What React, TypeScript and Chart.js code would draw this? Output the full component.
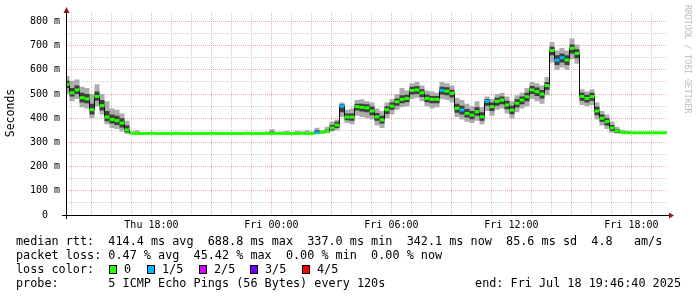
import React, { useEffect, useRef } from 'react';
import { Chart, registerables } from 'chart.js';

Chart.register(...registerables);

// Time axis: hours since Thu 00:00; graph spans 30h ending Fri 19:46:40
const START_HOUR = 13 + 46 / 60 + 40 / 3600;
const END_HOUR = START_HOUR + 30;
const STEP_HOURS = 0.25;

// median RTT in ms, one sample every 15 minutes
const median = [
  540, 505, 517, 485, 480, 435, 490, 452, 405, 395,
  390, 380, 352, 338, 337, 337, 337, 338, 337, 337,
  337, 337, 338, 337, 337, 337, 337, 337, 337, 338,
  337, 337, 337, 337, 337, 337, 338, 337, 337, 337,
  337, 337, 338, 337, 337, 337, 337, 338, 337, 337,
  340, 342, 345, 360, 372, 450, 405, 405, 448, 445,
  443, 430, 406, 393, 435, 450, 468, 478, 482, 515,
  517, 505, 482, 478, 478, 515, 512, 503, 441, 434,
  420, 413, 427, 406, 470, 448, 470, 475, 455, 434,
  462, 475, 489, 517, 510, 500, 535, 680, 640, 650,
  641, 689, 668, 490, 482, 489, 430, 400, 386, 360,
  348, 342, 340, 340, 340, 340, 340, 340, 340, 340,
  340,
];

// lost pings (out of 5) per sample
const loss = [
  0, 0, 0, 0, 0, 0, 0, 0, 0, 0,
  0, 0, 0, 0, 0, 0, 0, 0, 0, 0,
  0, 0, 0, 0, 0, 0, 0, 0, 0, 0,
  0, 0, 0, 0, 0, 0, 0, 0, 0, 0,
  0, 0, 0, 0, 0, 0, 0, 0, 0, 0,
  1, 0, 0, 0, 0, 1, 0, 0, 0, 0,
  0, 0, 0, 0, 0, 0, 0, 0, 0, 0,
  0, 0, 0, 0, 0, 1, 0, 0, 0, 1,
  0, 0, 0, 0, 1, 0, 0, 0, 0, 0,
  0, 0, 0, 0, 0, 0, 0, 0, 1, 1,
  0, 0, 0, 0, 0, 0, 0, 0, 0, 0,
  0, 0, 0, 0, 0, 0, 0, 0, 0, 0,
  0,
];

// smoke: slowest / fastest ping
const smokeMax = [
  575, 555, 560, 530, 525, 500, 540, 500, 470, 440,
  435, 420, 390, 345, 350, 342, 339, 339, 339, 339,
  339, 339, 339, 339, 339, 339, 339, 339, 339, 339,
  339, 339, 339, 339, 339, 339, 339, 339, 339, 339,
  345, 355, 342, 345, 348, 343, 348, 345, 350, 345,
  361, 350, 365, 385, 395, 465, 435, 440, 475, 478,
  470, 465, 440, 430, 465, 480, 500, 525, 515, 545,
  550, 535, 515, 510, 505, 550, 545, 535, 485, 475,
  460, 450, 470, 445, 490, 480, 500, 505, 490, 470,
  495, 505, 525, 550, 545, 535, 570, 715, 680, 690,
  680, 730, 705, 520, 510, 520, 465, 430, 415, 385,
  365, 352, 348, 345, 343, 343, 343, 343, 343, 343,
  343,
];
const smokeMin = [
  500, 470, 480, 445, 440, 400, 450, 415, 375, 360,
  355, 345, 335, 335, 336, 336, 336, 336, 336, 336,
  336, 336, 336, 336, 336, 336, 336, 336, 336, 336,
  336, 336, 336, 336, 336, 336, 336, 336, 336, 336,
  336, 336, 336, 336, 336, 336, 336, 336, 336, 336,
  336, 337, 338, 345, 350, 405, 380, 375, 410, 405,
  400, 395, 370, 360, 400, 415, 435, 445, 450, 480,
  485, 470, 450, 440, 445, 480, 475, 465, 405, 395,
  385, 380, 390, 375, 430, 410, 435, 440, 420, 400,
  425, 440, 450, 480, 470, 460, 495, 630, 600, 610,
  600, 645, 625, 455, 450, 455, 395, 370, 355, 340,
  337, 337, 337, 337, 337, 337, 337, 337, 337, 337,
  337,
];
// smoke: 2nd and 4th ping
const innerHi = [
  555, 525, 535, 505, 500, 460, 510, 475, 430, 415,
  410, 400, 370, 340, 338, 338, 338, 338, 338, 338,
  338, 338, 338, 338, 338, 338, 338, 338, 338, 338,
  338, 338, 338, 338, 338, 338, 338, 338, 338, 338,
  338, 345, 338, 338, 338, 338, 338, 338, 338, 338,
  350, 345, 352, 372, 385, 458, 420, 420, 460, 460,
  458, 448, 422, 410, 450, 465, 482, 495, 497, 530,
  532, 520, 498, 492, 492, 530, 528, 518, 460, 452,
  438, 430, 445, 425, 480, 465, 485, 490, 472, 452,
  478, 490, 505, 533, 527, 517, 550, 695, 660, 668,
  660, 705, 685, 505, 497, 505, 447, 415, 400, 372,
  355, 345, 341, 341, 341, 341, 341, 341, 341, 341,
  341,
];
const innerLo = [
  525, 490, 500, 465, 462, 415, 472, 432, 388, 378,
  372, 362, 342, 337, 337, 337, 337, 337, 337, 337,
  337, 337, 337, 337, 337, 337, 337, 337, 337, 337,
  337, 337, 337, 337, 337, 337, 337, 337, 337, 337,
  337, 337, 337, 337, 337, 337, 337, 337, 337, 337,
  338, 339, 340, 350, 360, 425, 392, 390, 432, 428,
  425, 412, 390, 378, 418, 435, 452, 462, 466, 498,
  500, 488, 466, 462, 462, 498, 495, 486, 423, 415,
  403, 396, 410, 390, 452, 430, 452, 458, 437, 416,
  445, 458, 470, 500, 492, 482, 517, 660, 620, 630,
  620, 668, 648, 472, 465, 472, 412, 385, 370, 348,
  340, 338, 338, 338, 338, 338, 338, 338, 338, 338,
  338,
];

const times = median.map((_, i) => START_HOUR + i * STEP_HOURS);

const xTickHours = [14, 15, 16, 17, 18, 19, 20, 21, 22, 23, 24, 25, 26, 27, 28, 29, 30, 31, 32, 33, 34, 35, 36, 37, 38, 39, 40, 41, 42, 43];
const xLabelHours = [18, 24, 30, 36, 42];
const xLabels = ['Thu 18:00', 'Fri 00:00', 'Fri 06:00', 'Fri 12:00', 'Fri 18:00'];
const yTickValues = [0, 50, 100, 150, 200, 250, 300, 350, 400, 450, 500, 550, 600, 650, 700, 750, 800];
const yLabelValues = [0, 100, 200, 300, 400, 500, 600, 700, 800];
const yLabels = ['0  ', '100 m', '200 m', '300 m', '400 m', '500 m', '600 m', '700 m', '800 m'];

const lossLabels = ['0', '1/5', '2/5', '3/5', '4/5'];
const lossColors = ['#22ff00', '#00b8ff', '#d000ff', '#6e00ff', '#ff0000'];

const legendLine1 = 'median rtt:  414.4 ms avg  688.8 ms max  337.0 ms min  342.1 ms now  85.6 ms sd  4.8   am/s';
const legendLine2 = 'packet loss: 0.47 % avg  45.42 % max  0.00 % min  0.00 % now';
const legendLine3 = 'loss color:';
const legendLine4 = 'probe:       5 ICMP Echo Pings (56 Bytes) every 120s';
const legendEnd = 'end: Fri Jul 18 19:46:40 2025';
const yTitle = 'Seconds';
const watermark = 'RRDTOOL / TOBI OETIKER';

const MONO = '"DejaVu Sans Mono", monospace';
const MAJOR_GRID = 'rgba(230, 140, 140, 0.7)';
const MINOR_GRID = 'rgba(185, 185, 185, 0.7)';

const decorPlugin = {
  id: 'rrdDecor',
  afterDraw(chart: any) {
    const { ctx, chartArea } = chart;
    const left = chartArea.left;
    const bottom = chartArea.bottom;
    ctx.save();
    // axes
    ctx.strokeStyle = '#000000';
    ctx.lineWidth = 1;
    ctx.beginPath();
    ctx.moveTo(left - 0.5, bottom + 4);
    ctx.lineTo(left - 0.5, chartArea.top - 2);
    ctx.moveTo(left - 5, bottom + 0.5);
    ctx.lineTo(chartArea.right + 3, bottom + 0.5);
    ctx.stroke();
    // arrows
    ctx.fillStyle = '#8f1818';
    ctx.beginPath();
    ctx.moveTo(left - 0.5, chartArea.top - 6);
    ctx.lineTo(left - 3.5, chartArea.top);
    ctx.lineTo(left + 2.5, chartArea.top);
    ctx.closePath();
    ctx.fill();
    ctx.beginPath();
    ctx.moveTo(chartArea.right + 7, bottom + 0.5);
    ctx.lineTo(chartArea.right + 2, bottom - 2.5);
    ctx.lineTo(chartArea.right + 2, bottom + 3.5);
    ctx.closePath();
    ctx.fill();

    // y title
    ctx.fillStyle = '#000000';
    ctx.font = '11.5px ' + MONO;
    ctx.textAlign = 'center';
    ctx.textBaseline = 'middle';
    ctx.save();
    ctx.translate(11, 113);
    ctx.rotate(-Math.PI / 2);
    ctx.fillText(yTitle, 0, 0);
    ctx.restore();

    // watermark
    ctx.save();
    ctx.fillStyle = '#bdbdbd';
    ctx.font = '8.2px ' + MONO;
    ctx.textAlign = 'left';
    ctx.textBaseline = 'middle';
    ctx.translate(687, 5);
    ctx.rotate(Math.PI / 2);
    ctx.fillText(watermark, 0, 0);
    ctx.restore();

    // legend
    ctx.font = '11.8px ' + MONO;
    ctx.fillStyle = '#000000';
    ctx.textAlign = 'left';
    ctx.textBaseline = 'middle';
    ctx.fillText(legendLine1, 16, 241.5);
    ctx.fillText(legendLine2, 16, 255.5);
    ctx.fillText(legendLine3, 16, 269.5);
    ctx.fillText(legendLine4, 16, 283.5);
    ctx.textAlign = 'right';
    ctx.fillText(legendEnd, 681, 283.5);
    ctx.textAlign = 'left';
    const boxX = [109, 147, 199, 250, 302];
    lossLabels.forEach((lab, k) => {
      ctx.fillStyle = lossColors[k];
      ctx.fillRect(boxX[k], 265, 8, 9);
      ctx.strokeStyle = '#000000';
      ctx.strokeRect(boxX[k] + 0.5, 265.5, 7, 8);
      ctx.fillStyle = '#000000';
      ctx.fillText(lab, boxX[k] + 15, 269.5);
    });
    ctx.restore();
  },
};

export default function App() {
  const canvasRef = useRef<HTMLCanvasElement | null>(null);

  useEffect(() => {
    const canvas = canvasRef.current;
    if (!canvas) return;
    const chart = new Chart(canvas, {
      type: 'line',
      data: {
        datasets: [
          {
            label: 'median (loss colored)',
            data: times.map((t, i) => ({ x: t, y: median[i] })),
            showLine: false,
            pointStyle: 'line',
            pointRadius: 2.5,
            pointBorderWidth: 3,
            pointBorderColor: loss.map((l) => lossColors[l]),
            pointBackgroundColor: loss.map((l) => lossColors[l]),
            pointHoverRadius: 2.5,
            order: 0,
          },
          {
            label: 'median',
            data: times.map((t, i) => ({ x: t, y: median[i] })),
            borderColor: '#111111',
            borderWidth: 1,
            stepped: 'middle',
            pointRadius: 0,
            fill: false,
            order: 1,
          },
          {
            label: 'inner hi',
            data: times.map((t, i) => ({ x: t, y: innerHi[i] })),
            borderWidth: 0,
            borderColor: 'rgba(0,0,0,0)',
            stepped: 'middle',
            pointRadius: 0,
            fill: false,
            order: 2,
          },
          {
            label: 'inner lo',
            data: times.map((t, i) => ({ x: t, y: innerLo[i] })),
            borderWidth: 0,
            borderColor: 'rgba(0,0,0,0)',
            backgroundColor: '#3e3e3e',
            stepped: 'middle',
            pointRadius: 0,
            fill: 2,
            order: 2,
          },
          {
            label: 'outer hi',
            data: times.map((t, i) => ({ x: t, y: smokeMax[i] })),
            borderWidth: 0,
            borderColor: 'rgba(0,0,0,0)',
            stepped: 'middle',
            pointRadius: 0,
            fill: false,
            order: 3,
          },
          {
            label: 'outer lo',
            data: times.map((t, i) => ({ x: t, y: smokeMin[i] })),
            borderWidth: 0,
            borderColor: 'rgba(0,0,0,0)',
            backgroundColor: '#adadad',
            stepped: 'middle',
            pointRadius: 0,
            fill: 4,
            order: 3,
          },
        ],
      },
      options: {
        responsive: false,
        animation: false,
        events: [],
        layout: { padding: { top: 13, right: 30, left: 0, bottom: 0 } },
        plugins: {
          legend: { display: false },
          tooltip: { enabled: false },
          title: { display: false },
        },
        scales: {
          x: {
            type: 'linear',
            min: START_HOUR,
            max: END_HOUR,
            afterFit: (scale: any) => {
              scale.height = 82;
            },
            afterBuildTicks: (scale: any) => {
              scale.ticks = xTickHours.map((v) => ({ value: v }));
            },
            grid: {
              drawTicks: false,
              lineWidth: 1,
              color: (c: any) => (c.tick && c.tick.value % 3 === 0 ? MAJOR_GRID : MINOR_GRID),
            },
            border: { display: false, dash: [1, 1] },
            ticks: {
              autoSkip: false,
              maxRotation: 0,
              minRotation: 0,
              padding: 4,
              color: '#000000',
              font: { family: MONO, size: 10 },
              callback: (v: any) => {
                const idx = xLabelHours.indexOf(Number(v));
                return idx >= 0 ? xLabels[idx] : '';
              },
            },
          },
          y: {
            type: 'linear',
            min: 0,
            max: 835,
            afterFit: (scale: any) => {
              scale.width = 67;
            },
            afterBuildTicks: (scale: any) => {
              scale.ticks = yTickValues.map((v) => ({ value: v }));
            },
            grid: {
              drawTicks: false,
              lineWidth: 1,
              color: (c: any) => (c.tick && c.tick.value % 100 === 0 ? MAJOR_GRID : MINOR_GRID),
            },
            border: { display: false, dash: [1, 1] },
            ticks: {
              autoSkip: false,
              padding: 7,
              color: '#000000',
              font: { family: MONO, size: 10 },
              callback: (v: any) => {
                const idx = yLabelValues.indexOf(Number(v));
                return idx >= 0 ? yLabels[idx] : '';
              },
            },
          },
        },
      },
      plugins: [decorPlugin],
    } as any);
    return () => {
      chart.destroy();
    };
  }, []);

  return (
    <div
      style={{
        position: 'fixed',
        left: 0,
        top: 0,
        width: 697,
        height: 297,
        background: '#ffffff',
      }}
    >
      <canvas ref={canvasRef} width={697} height={297} style={{ width: 697, height: 297, display: 'block' }} />
    </div>
  );
}
